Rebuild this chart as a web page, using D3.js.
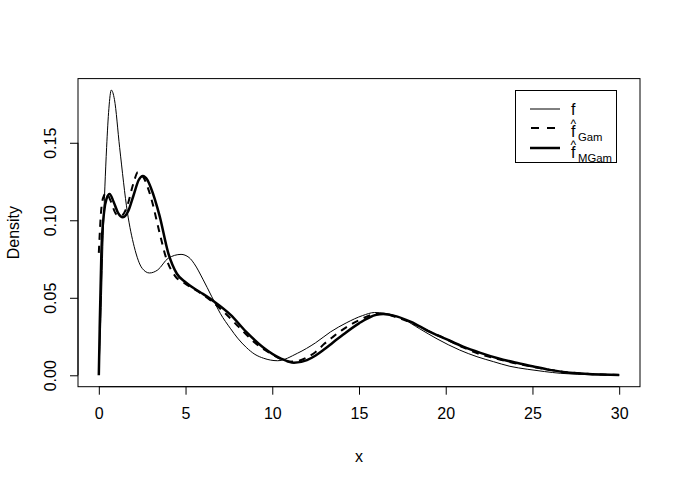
<!DOCTYPE html>
<html>
<head>
<meta charset="utf-8">
<script src="https://cdn.jsdelivr.net/npm/d3@7"></script>
<style>
body { margin:0; background:#fff; }
svg text { font-family: "Liberation Sans", Arial, sans-serif; fill:#000; }
</style>
</head>
<body>
<svg id="chart" width="681" height="485"></svg>
<script>
// true density f (thin solid)
var fX = [0, 0.1, 0.25, 0.45, 0.58, 0.72, 0.9, 1.2, 1.65, 2.04, 2.5, 2.92, 3.4, 4.0, 4.74, 5.2, 5.5, 6.0, 6.5, 7.0, 7.6, 8.0, 8.5, 9.0, 9.5, 10.3, 11.45, 12.5, 13.36, 14.3, 15.2, 15.9, 16.5, 17.5, 18.5, 19.5, 20.8, 21.8, 22.75, 23.7, 24.7, 25.7, 26.6, 27.6, 28.5, 30];
var fY = [0.002, 0.03, 0.09, 0.147, 0.172, 0.184, 0.178, 0.147, 0.105, 0.083, 0.069, 0.066, 0.068, 0.0755, 0.078, 0.076, 0.072, 0.062, 0.051, 0.040, 0.030, 0.024, 0.018, 0.0135, 0.011, 0.0094, 0.0142, 0.021, 0.028, 0.034, 0.0385, 0.0405, 0.040, 0.0365, 0.030, 0.0235, 0.0163, 0.012, 0.0088, 0.0058, 0.0039, 0.0024, 0.0013, 0.0007, 0.0003, 0.0001];

// gamma kernel estimate (dashed)
var gamX = [0, 0.15, 0.3, 0.43, 0.7, 1.0, 1.3, 1.6, 2.0, 2.25, 2.5, 3.0, 3.5, 3.9, 4.4, 5, 6, 7, 8, 9, 10, 10.5, 11, 11.5, 12, 12.5, 13, 13.5, 14, 15, 16, 16.5, 17, 18, 19, 20, 21, 22, 23, 24, 25, 26, 27, 28, 29, 30];
var gamY = [0.079, 0.108, 0.116, 0.1175, 0.112, 0.104, 0.103, 0.108, 0.124, 0.131, 0.129, 0.115, 0.092, 0.075, 0.064, 0.059, 0.052, 0.043, 0.032, 0.021, 0.0135, 0.0105, 0.0088, 0.0093, 0.0115, 0.015, 0.0203, 0.0248, 0.029, 0.0355, 0.0395, 0.0395, 0.038, 0.034, 0.0285, 0.0235, 0.018, 0.0135, 0.0105, 0.0078, 0.0055, 0.0035, 0.002, 0.001, 0.0005, 0.0002];

// modified gamma kernel estimate (thick solid)
var mgamX = [0, 0.05, 0.15, 0.3, 0.45, 0.62, 0.85, 1.1, 1.39, 1.7, 2.0, 2.3, 2.54, 2.8, 3.0, 3.5, 4.0, 4.5, 5.0, 5.5, 6, 6.66, 7.6, 8.5, 9.5, 10.5, 11.25, 12, 12.5, 13, 13.5, 14, 15, 16, 16.4, 17, 18, 19, 20, 21, 22, 23, 24, 25, 26, 27, 28, 29, 30];
var mgamY = [0.0, 0.03, 0.08, 0.105, 0.114, 0.117, 0.112, 0.105, 0.102, 0.106, 0.116, 0.126, 0.1286, 0.126, 0.121, 0.103, 0.079, 0.0655, 0.060, 0.056, 0.0525, 0.0475, 0.039, 0.028, 0.0178, 0.0108, 0.0081, 0.0098, 0.0128, 0.0168, 0.0212, 0.0255, 0.0335, 0.039, 0.0395, 0.0385, 0.0345, 0.0285, 0.0235, 0.0185, 0.0145, 0.011, 0.0082, 0.0058, 0.0035, 0.0018, 0.001, 0.0005, 0.0002];

var xTicks = [0, 5, 10, 15, 20, 25, 30];
var yTicks = [0.00, 0.05, 0.10, 0.15];

var svg = d3.select("#chart");
var pLeft = 78, pRight = 640, pTop = 78.6, pBottom = 386.7;

var x = d3.scaleLinear().domain([-1.2, 31.2]).range([pLeft, pRight]);
var y = d3.scaleLinear().domain([-0.00736, 0.1914]).range([pBottom, pTop]);

function pts(xs, ys) {
  return xs.map(function(d, i) { return [d, ys[i]]; });
}

var line = d3.line()
    .x(function(d) { return x(d[0]); })
    .y(function(d) { return y(d[1]); })
    .curve(d3.curveMonotoneX);

var plot = svg.append("g");

plot.append("path")
    .attr("d", line(pts(fX, fY)))
    .attr("fill", "none").attr("stroke", "#000").attr("stroke-width", 1);

plot.append("path")
    .attr("d", line(pts(gamX, gamY)))
    .attr("fill", "none").attr("stroke", "#000").attr("stroke-width", 2)
    .attr("stroke-dasharray", "7,6");

plot.append("path")
    .attr("d", line(pts(mgamX, mgamY)))
    .attr("fill", "none").attr("stroke", "#000").attr("stroke-width", 2.5);

// box
svg.append("rect")
    .attr("x", pLeft).attr("y", pTop)
    .attr("width", pRight - pLeft).attr("height", pBottom - pTop)
    .attr("fill", "none").attr("stroke", "#000").attr("stroke-width", 1);

// x axis
var xAxis = d3.axisBottom(x).tickValues(xTicks).tickSize(8).tickPadding(13)
    .tickFormat(d3.format("d"));
var gx = svg.append("g").attr("transform", "translate(0," + pBottom + ")").call(xAxis);
gx.attr("font-size", 16).attr("font-family", null);
gx.select(".domain").attr("d", "M" + x(0) + ",0H" + x(30));

// y axis
var yAxis = d3.axisLeft(y).tickValues(yTicks).tickSize(8).tickFormat(d3.format(".2f"));
var gy = svg.append("g").attr("transform", "translate(" + pLeft + ",0)").call(yAxis);
gy.attr("font-size", 16).attr("font-family", null);
gy.select(".domain").attr("d", "M0," + y(0) + "V" + y(0.15));
gy.selectAll(".tick text")
    .attr("text-anchor", "middle").attr("x", 0).attr("dy", null)
    .attr("transform", "translate(-28,0) rotate(-90)")
    .attr("dominant-baseline", "central");

// axis titles
svg.append("text").attr("x", x(15)).attr("y", 462)
    .attr("text-anchor", "middle").attr("font-size", 16).text("x");
svg.append("text").attr("transform", "translate(19," + ((pTop + pBottom) / 2) + ") rotate(-90)")
    .attr("text-anchor", "middle").attr("font-size", 16).text("Density");

// legend
var lg = svg.append("g");
lg.append("rect").attr("x", 515.5).attr("y", 90.5).attr("width", 101).attr("height", 72)
    .attr("fill", "#fff").attr("stroke", "#000").attr("stroke-width", 1);

var legRows = [
  {yy: 109, fy: 115, width: 1, dash: null, sub: null},
  {yy: 128, fy: 137, width: 2, dash: "8,8", sub: "Gam"},
  {yy: 148, fy: 158, width: 2.5, dash: null, sub: "MGam"}
];
legRows.forEach(function(r) {
  var l = lg.append("line").attr("x1", 530).attr("x2", 560).attr("y1", r.yy).attr("y2", r.yy)
      .attr("stroke", "#000").attr("stroke-width", r.width);
  if (r.dash) l.attr("stroke-dasharray", r.dash).attr("x1", 531);
  lg.append("text").attr("x", 571).attr("y", r.fy).attr("font-size", 16).text("f");
  if (r.sub) {
    lg.append("text").attr("x", 570.5).attr("y", r.fy - 9).attr("font-size", 12).text("^");
    lg.append("text").attr("x", 578).attr("y", r.fy + 4).attr("font-size", 11.3).text(r.sub);
  }
});
</script>
</body>
</html>
